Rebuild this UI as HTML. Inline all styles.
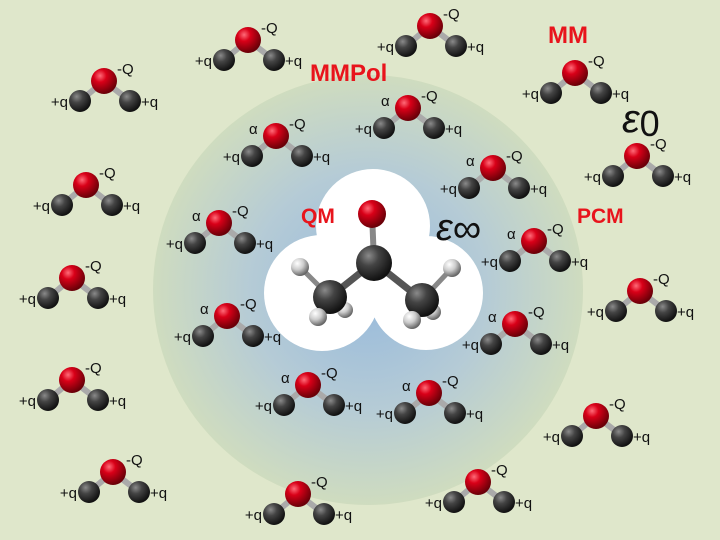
<!DOCTYPE html>
<html><head><meta charset="utf-8"><style>
body{margin:0;background:#dfe7cb}
svg{display:block}
text{font-family:"Liberation Sans",sans-serif}
</style></head><body>
<svg width="720" height="540" viewBox="0 0 720 540">
<defs>
<radialGradient id="bg" cx="0.5" cy="0.5" r="0.5">
<stop offset="0" stop-color="#96b9dc"/><stop offset="0.55" stop-color="#b5cbd6"/><stop offset="1" stop-color="#cfdcbf"/>
</radialGradient>
<radialGradient id="red" cx="0.35" cy="0.3" r="0.7"><stop offset="0" stop-color="#ff6b78"/><stop offset="0.35" stop-color="#d90018"/><stop offset="1" stop-color="#6a0008"/></radialGradient>
<radialGradient id="gray" cx="0.35" cy="0.3" r="0.7"><stop offset="0" stop-color="#8a8a8a"/><stop offset="0.4" stop-color="#444"/><stop offset="1" stop-color="#111"/></radialGradient>
<radialGradient id="white" cx="0.35" cy="0.3" r="0.7"><stop offset="0" stop-color="#fff"/><stop offset="0.5" stop-color="#ccc"/><stop offset="1" stop-color="#666"/></radialGradient>
</defs>
<rect width="720" height="540" fill="#dfe7cb"/>
<circle cx="368" cy="290" r="215" fill="url(#bg)"/>
<g fill="#fff">
<circle cx="373" cy="226" r="57"/><circle cx="322" cy="293" r="58"/><circle cx="426" cy="293" r="57"/>
</g>
<g id="mols"></g>
<g stroke-linecap="round">
<line x1="372" y1="213" x2="374" y2="262" stroke="#888" stroke-width="6"/>
<line x1="374" y1="262" x2="330" y2="297" stroke="#555" stroke-width="7"/>
<line x1="374" y1="262" x2="422" y2="300" stroke="#555" stroke-width="7"/>
<line x1="330" y1="297" x2="300" y2="267" stroke="#888" stroke-width="5"/>
<line x1="422" y1="300" x2="452" y2="268" stroke="#888" stroke-width="5"/>
<circle cx="345" cy="310" r="8" fill="url(#white)"/>
<circle cx="433" cy="312" r="8" fill="url(#white)"/>
<circle cx="300" cy="267" r="9" fill="url(#white)"/>
<circle cx="452" cy="268" r="9" fill="url(#white)"/>
<circle cx="372" cy="214" r="14" fill="url(#red)"/>
<circle cx="374" cy="263" r="18" fill="url(#gray)"/>
<circle cx="330" cy="297" r="17" fill="url(#gray)"/>
<circle cx="422" cy="300" r="17" fill="url(#gray)"/>
<circle cx="318" cy="317" r="9" fill="url(#white)"/>
<circle cx="412" cy="320" r="9" fill="url(#white)"/>
</g>
<g fill="#e8141c" font-weight="bold" font-size="24">
<text x="310" y="81">MMPol</text>
<text x="548" y="43">MM</text>
<text x="301" y="223" font-size="21">QM</text>
<text x="577" y="223" font-size="21">PCM</text>
</g>
<g font-family="Liberation Serif,serif" fill="#111">
<text x="622" y="132" font-size="40" font-style="italic">ε<tspan font-size="36" font-style="normal" dy="4">0</tspan></text>
<text x="436" y="240" font-size="38" font-style="italic">ε<tspan font-size="40" font-style="normal" dy="2">∞</tspan></text>
</g>
<script>
const mols=[[248,40,0],[430,26,0],[104,81,0],[575,73,0],[408,108,1],[276,136,1],[637,156,0],[86,185,0],[493,168,1],[219,223,1],[534,241,1],[72,278,0],[640,291,0],[227,316,1],[515,324,1],[72,380,0],[308,385,1],[429,393,1],[596,416,0],[113,472,0],[298,494,0],[478,482,0]];
const g=document.getElementById('mols');const ns='http://www.w3.org/2000/svg';
function mk(t,a,p){const e=document.createElementNS(ns,t);for(const k in a)e.setAttribute(k,a[k]);p.appendChild(e);return e;}
mols.forEach(([x,y,a])=>{
const m=mk('g',{},g);


mk('line',{x1:x,y1:y,x2:x-24,y2:y+20,stroke:'#aaa','stroke-width':6},m);
mk('line',{x1:x,y1:y,x2:x+26,y2:y+20,stroke:'#aaa','stroke-width':6},m);
mk('circle',{cx:x-24,cy:y+20,r:11,fill:'url(#gray)'},m);
mk('circle',{cx:x+26,cy:y+20,r:11,fill:'url(#gray)'},m);
mk('circle',{cx:x,cy:y,r:13,fill:'url(#red)'},m);
const t1=mk('text',{x:x-36,y:y+26,'text-anchor':'end','font-size':15,fill:'#111'},m);t1.textContent='+q';
const t2=mk('text',{x:x+37,y:y+26,'font-size':15,fill:'#111'},m);t2.textContent='+q';
const t3=mk('text',{x:x+13,y:y-7,'font-size':15,fill:'#111'},m);t3.textContent='-Q';
if(a){const t4=mk('text',{x:x-27,y:y-2,'font-size':15,fill:'#111'},m);t4.textContent='α';}
});
</script>
</svg>
</body></html>
